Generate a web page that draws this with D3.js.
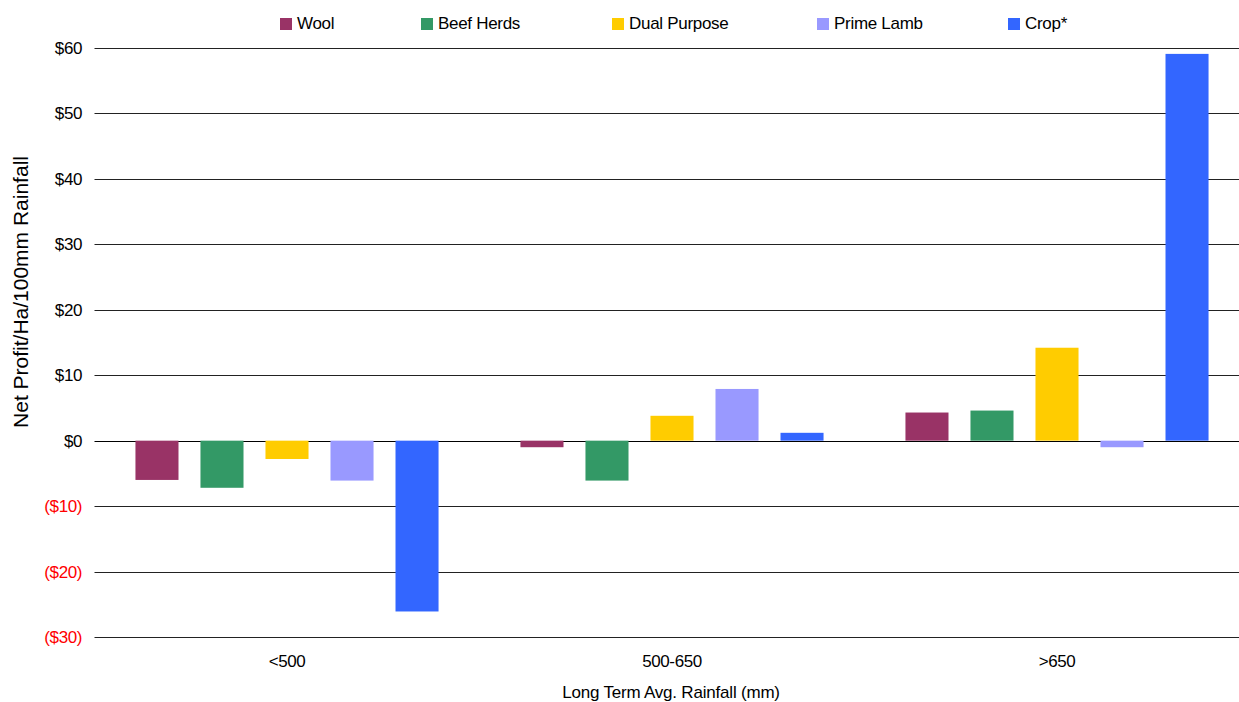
<!DOCTYPE html>
<html>
<head>
<meta charset="utf-8">
<script src="https://cdn.jsdelivr.net/npm/d3@7"></script>
<style>
  body { margin: 0; background: #fff; }
  text { font-family: "Liberation Sans", Arial, sans-serif; }
</style>
</head>
<body>
<svg id="chart" width="1239" height="702"></svg>
<script>
// data
const categories = ["<500", "500-650", ">650"];
const series = ["Wool", "Beef Herds", "Dual Purpose", "Prime Lamb", "Crop*"];
const colors = ["#993366", "#339966", "#FFCC00", "#9999FF", "#3366FF"];
const wool = [-6.0, -1.0, 4.3];
const beefHerds = [-7.2, -6.1, 4.6];
const dualPurpose = [-2.8, 3.8, 14.2];
const primeLamb = [-6.1, 7.9, -1.0];
const crop = [-26.1, 1.2, 59.1];
const yTicks = [-30, -20, -10, 0, 10, 20, 30, 40, 50, 60];

const values = [wool, beefHerds, dualPurpose, primeLamb, crop];

const svg = d3.select("#chart");
const plotLeft = 94.5, plotRight = 1249.5, plotTop = 48, plotBottom = 637;

const x0 = d3.scaleBand().domain(categories).range([plotLeft, plotRight]);
const x1 = d3.scaleBand().domain(series).range([0, x0.bandwidth()])
  .paddingInner(0.338).paddingOuter(0.63);
const y = d3.scaleLinear().domain([-30, 60]).range([plotBottom, plotTop]);

// gridlines
svg.append("g").selectAll("line").data(yTicks).join("line")
  .attr("x1", plotLeft).attr("x2", 1239)
  .attr("y1", d => Math.round(y(d)) + 0.5).attr("y2", d => Math.round(y(d)) + 0.5)
  .attr("stroke", d => d === 0 ? "#000" : "#222").attr("stroke-width", 1);

// y labels
const fmt = v => v < 0 ? `($${-v})` : `$${v}`;
svg.append("g").selectAll("text").data(yTicks).join("text")
  .attr("x", 82).attr("y", d => y(d)).attr("dy", "0.35em")
  .attr("text-anchor", "end").attr("font-size", 17).attr("letter-spacing", -0.4)
  .attr("fill", d => d < 0 ? "#ff0000" : "#000")
  .text(fmt);

// bars
const rows = [];
series.forEach((s, i) => categories.forEach((c, j) => rows.push({ s, c, v: values[i][j], col: colors[i] })));
svg.append("g").selectAll("rect").data(rows).join("rect")
  .attr("x", d => x0(d.c) + x1(d.s))
  .attr("width", x1.bandwidth())
  .attr("y", d => y(Math.max(0, d.v)))
  .attr("height", d => Math.abs(y(d.v) - y(0)))
  .attr("fill", d => d.col);

// x labels
svg.append("g").selectAll("text").data(categories).join("text")
  .attr("x", d => x0(d) + x0.bandwidth() / 2).attr("y", 667)
  .attr("text-anchor", "middle").attr("font-size", 17).attr("letter-spacing", -0.4)
  .text(d => d);

// axis titles
svg.append("text").attr("x", 671).attr("y", 698)
  .attr("text-anchor", "middle").attr("font-size", 17).attr("letter-spacing", -0.2)
  .text("Long Term Avg. Rainfall (mm)");
svg.append("text").attr("transform", "translate(28,292) rotate(-90)")
  .attr("text-anchor", "middle").attr("font-size", 21)
  .text("Net Profit/Ha/100mm Rainfall");

// legend
const legendX = [280, 421, 612, 817, 1008];
const lg = svg.append("g").selectAll("g").data(series).join("g")
  .attr("transform", (d, i) => `translate(${legendX[i]},0)`);
lg.append("rect").attr("x", 0).attr("y", 18).attr("width", 12).attr("height", 12)
  .attr("fill", (d, i) => colors[i]);
lg.append("text").attr("x", 17).attr("y", 29).attr("font-size", 17).attr("letter-spacing", -0.3)
  .text(d => d);
</script>
</body>
</html>
